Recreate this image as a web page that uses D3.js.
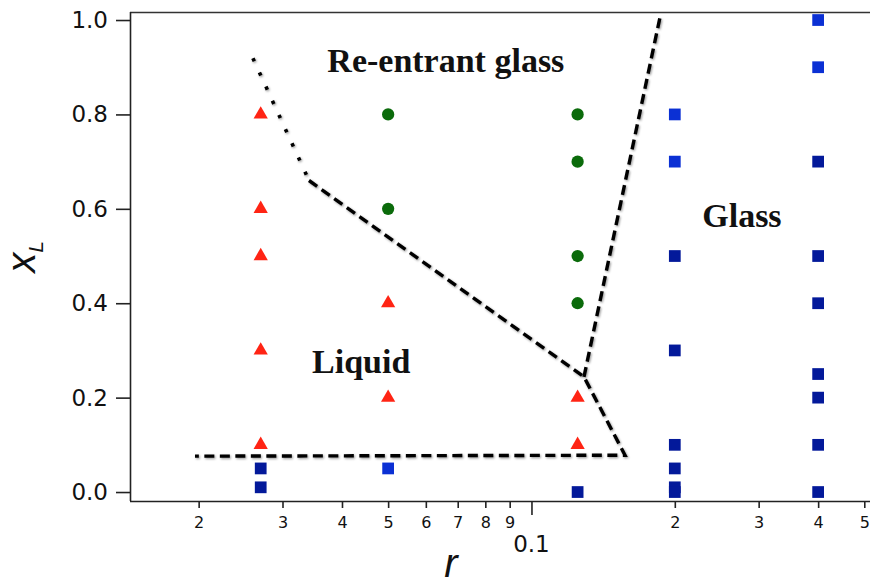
<!DOCTYPE html>
<html>
<head>
<meta charset="utf-8">
<script src="https://cdn.jsdelivr.net/npm/d3@7"></script>
<style>
  html, body { margin: 0; padding: 0; background: #fff; }
  svg { display: block; }
</style>
</head>
<body>
<svg id="chart" width="870" height="585"></svg>
<script>
// State points, r = size ratio, xL = fraction of large particles
const liquidR  = [0.027, 0.027, 0.027, 0.027, 0.027, 0.05, 0.05, 0.125, 0.125];
const liquidXL = [0.8,   0.6,   0.5,   0.3,   0.1,   0.4,  0.2,  0.2,   0.1];

const reentrantR  = [0.05, 0.05, 0.125, 0.125, 0.125, 0.125];
const reentrantXL = [0.8,  0.6,  0.8,   0.7,   0.5,   0.4];

const glassR  = [0.027, 0.027, 0.125, 0.2, 0.2, 0.2, 0.2, 0.2, 0.2, 0.4, 0.4, 0.4, 0.4, 0.4, 0.4, 0.4];
const glassXL = [0.05,  0.01,  0.0,   0.5, 0.3, 0.1, 0.05, 0.01, 0.0, 0.7, 0.5, 0.4, 0.25, 0.2, 0.1, 0.0];

const glassLightR  = [0.05, 0.2, 0.2, 0.4, 0.4];
const glassLightXL = [0.05, 0.8, 0.7, 1.0, 0.9];

// Estimated phase boundaries, [r, xL] vertices
const dottedBoundary = [[0.0260, 0.919], [0.0341, 0.660]];
const liquidBoundary = [[0.0341, 0.660], [0.1289, 0.244], [0.1572, 0.078], [0.01965, 0.076]];
const glassBoundary  = [[0.1289, 0.244], [0.1862, 1.006]];

// Region names, placed at [r, xL] (text centre, baseline)
const regionNames = ["Re-entrant glass", "Liquid", "Glass"];
const regionR     = [0.0661, 0.0439, 0.2767];
const regionXL    = [0.890, 0.252, 0.5615];

// Axis ticks
const xTickValues = [0.02, 0.03, 0.04, 0.05, 0.06, 0.07, 0.08, 0.09, 0.1, 0.2, 0.3, 0.4, 0.5];
const xTickLabels = ["2", "3", "4", "5", "6", "7", "8", "9", "", "2", "3", "4", "5"];
const xDecadeValue = 0.1;
const xDecadeLabel = "0.1";
const yTickValues = [0.0, 0.2, 0.4, 0.6, 0.8, 1.0];

const svg = d3.select("#chart");
const plotLeft = 130, plotRight = 870, plotTop = 12, plotBottom = 501;

const x = d3.scaleLog().domain([0.01435, 0.514]).range([plotLeft, plotRight]);
const y = d3.scaleLinear().domain([-0.019, 1.017]).range([plotBottom, plotTop]);

// soft shadow under the boundary lines
const defs = svg.append("defs");
const f = defs.append("filter").attr("id", "shadow")
  .attr("x", "-10%").attr("y", "-10%").attr("width", "120%").attr("height", "120%");
f.append("feDropShadow").attr("dx", 1).attr("dy", 1.2)
  .attr("stdDeviation", 1.2).attr("flood-color", "#000").attr("flood-opacity", 0.4);

// frame: top border
svg.append("line")
  .attr("x1", plotLeft).attr("x2", plotRight).attr("y1", plotTop + 0.5).attr("y2", plotTop + 0.5)
  .attr("stroke", "#333").attr("stroke-width", 1.5);

// y axis
const yAxis = d3.axisLeft(y).tickValues(yTickValues).tickSize(14).tickPadding(8)
  .tickFormat(d3.format(".1f")).tickSizeOuter(0);
const gy = svg.append("g").attr("transform", `translate(${plotLeft},0)`).call(yAxis);
gy.select(".domain").attr("d", `M0.5,${plotTop}V${plotBottom}`).attr("stroke", "#222").attr("stroke-width", 1.6);
gy.selectAll(".tick line").attr("stroke", "#222").attr("stroke-width", 1.6);
gy.selectAll(".tick text").attr("font-family", "DejaVu Sans, sans-serif")
  .attr("font-size", 23).attr("fill", "#111");

// x axis (log)
const xAxis = d3.axisBottom(x).tickValues(xTickValues).tickSize(7).tickPadding(9)
  .tickFormat((d, i) => xTickLabels[i]).tickSizeOuter(0);
const gx = svg.append("g").attr("transform", `translate(0,${plotBottom})`).call(xAxis);
gx.select(".domain").attr("d", `M${plotLeft},0.5H${plotRight}`).attr("stroke", "#222").attr("stroke-width", 1.6);
gx.selectAll(".tick line").attr("stroke", "#222").attr("stroke-width", 1.6)
  .attr("y2", d => d === xDecadeValue ? 14 : 7);
gx.selectAll(".tick text").attr("font-family", "DejaVu Sans, sans-serif")
  .attr("font-size", 16).attr("fill", "#111");

svg.append("text")
  .attr("x", x(xDecadeValue)).attr("y", 552)
  .attr("text-anchor", "middle")
  .attr("font-family", "DejaVu Sans, sans-serif").attr("font-size", 23).attr("fill", "#111")
  .text(xDecadeLabel);

// axis titles
svg.append("text")
  .attr("x", 451).attr("y", 577).attr("text-anchor", "middle")
  .attr("font-family", "Liberation Sans, Arial, sans-serif").attr("font-style", "italic")
  .attr("font-size", 40).attr("fill", "#111")
  .text("r");

const yTitle = svg.append("text")
  .attr("transform", "translate(35,257) rotate(-90)")
  .attr("text-anchor", "middle")
  .attr("font-family", "Liberation Sans, Arial, sans-serif").attr("font-style", "italic")
  .attr("fill", "#111");
yTitle.append("tspan").attr("font-size", 40).text("x");
yTitle.append("tspan").attr("font-size", 21).attr("dy", 8).text("L");

// phase boundaries
const line = d3.line().x(d => x(d[0])).y(d => y(d[1]));
const gb = svg.append("g").attr("filter", "url(#shadow)").attr("fill", "none").attr("stroke", "#000");
gb.append("path").datum(dottedBoundary).attr("d", line)
  .attr("stroke-width", 3.6).attr("stroke-dasharray", "3.4,12.2");
gb.append("path").datum(liquidBoundary).attr("d", line)
  .attr("stroke-width", 3.4).attr("stroke-dasharray", "10,5.5").attr("stroke-linejoin", "miter");
gb.append("path").datum(glassBoundary).attr("d", line)
  .attr("stroke-width", 3.4).attr("stroke-dasharray", "10,5.5");

// markers
function drawSeries(rs, xls, type, size, color) {
  const sym = d3.symbol().type(type).size(size);
  svg.append("g").selectAll("path")
    .data(rs.map((r, i) => [r, xls[i]]))
    .join("path")
    .attr("transform", d => `translate(${x(d[0])},${y(d[1])})`)
    .attr("d", sym)
    .attr("fill", color);
}
drawSeries(glassR, glassXL, d3.symbolSquare, 138, "#03199a");
drawSeries(glassLightR, glassLightXL, d3.symbolSquare, 138, "#0b30d4");
drawSeries(liquidR, liquidXL, d3.symbolTriangle, 88, "#ff2414");
drawSeries(reentrantR, reentrantXL, d3.symbolCircle, 118, "#0b6b0b");

// region names
svg.append("g").selectAll("text")
  .data(regionNames)
  .join("text")
  .attr("x", (d, i) => x(regionR[i]))
  .attr("y", (d, i) => y(regionXL[i]))
  .attr("text-anchor", "middle")
  .attr("font-family", "Liberation Serif, Times New Roman, serif")
  .attr("font-weight", "bold").attr("font-size", 34).attr("fill", "#111")
  .text(d => d);
</script>
</body>
</html>
